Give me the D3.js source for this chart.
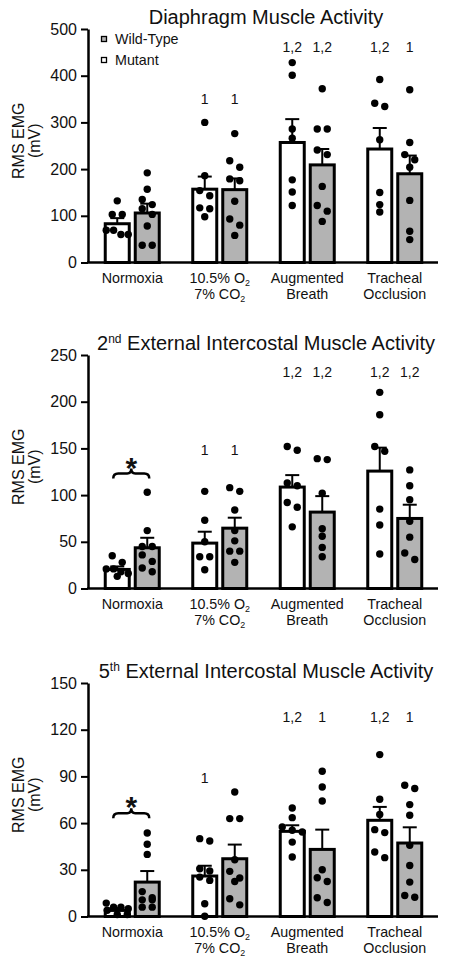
<!DOCTYPE html>
<html><head><meta charset="utf-8">
<script src="https://cdn.jsdelivr.net/npm/d3@7"></script>
<style>
body{margin:0;background:#fff}
svg{display:block}
text{font-family:"Liberation Sans",Arial,Helvetica,sans-serif;fill:#111}
</style>
</head><body>
<svg id="chart" width="450" height="966"></svg>
<script>
// ---------- data ----------
const categories = ["Normoxia", "Hypercapnia", "Augmented", "Tracheal"];
// tick labels: lines of [text, kind] segments (kind: "" normal, "sub" subscript)
const categoryLabels = [
  [[["Normoxia", ""]]],
  [[["10.5% O", ""], ["2", "sub"]], [["7% CO", ""], ["2", "sub"]]],
  [[["Augmented", ""]], [["Breath", ""]]],
  [[["Tracheal", ""]], [["Occlusion", ""]]]
];
const series = ["Mutant", "Wild-Type"];
const legendOrder = ["Wild-Type", "Mutant"];
const titles = [
  [["Diaphragm Muscle Activity", ""]],
  [["2", ""], ["nd", "sup"], [" External Intercostal Muscle Activity", ""]],
  [["5", ""], ["th", "sup"], [" External Intercostal Muscle Activity", ""]]
];
const yMax = [500, 250, 150];
const yTicks = [
  [0, 100, 200, 300, 400, 500],
  [0, 50, 100, 150, 200, 250],
  [0, 30, 60, 90, 120, 150]
];

// bar means and SEM
const mutantMean = [[83, 157, 257, 243], [20.4, 48.6, 108.6, 125.7], [3.9, 26, 54.7, 61.8]];
const mutantSem  = [[12, 27, 50, 45], [3.2, 12.2, 12.8, 25.1], [1.5, 6.6, 3.9, 8.6]];
const wtMean     = [[106, 156, 209, 190], [43.6, 64.6, 81.8, 75], [22.1, 37.1, 43.1, 47.2]];
const wtSem      = [[20, 24, 34, 39], [10.7, 11.2, 17.1, 14.7], [7.1, 9.1, 12.7, 10.1]];

// individual animals
const mutantPoints = [
  [[132, 103, 103, 69, 60, 60, 69], [300, 186, 154, 143, 117, 115, 98], [428, 401, 286, 266, 177, 151, 122], [392, 341, 334, 263, 150, 124, 108]],
  [[35, 28, 21, 21, 18, 16, 13], [104, 73, 50, 34, 34, 20], [152, 148, 113, 110, 92, 87, 66], [210, 186, 152, 147, 85, 68, 37]],
  [[8.6, 6, 6, 5, 4, 1.3, 1.3], [50, 48.5, 30.7, 29.2, 25.3, 23.2, 8.2, 0.2], [69.7, 63.5, 57.5, 55.4, 54.3, 47.8, 38.2], [104, 75.3, 65.5, 55.8, 53.9, 41.4, 37.8]]
];
const wtPoints = [
  [[192, 157, 135, 124, 115, 103, 78, 37, 37], [276, 218, 204, 179, 175, 131, 93, 80, 58], [372, 286, 286, 241, 231, 163, 122, 110, 88], [370, 257, 231, 220, 204, 133, 67, 49]],
  [[103, 62, 45, 45, 36, 29, 22, 18], [108, 104, 84, 62, 51, 40, 40, 28], [139, 138, 102, 64, 56, 44, 34], [127, 110, 95, 72, 55, 38, 31]],
  [[53.6, 46.4, 39.9, 16, 12, 10.7, 10.7, 6, 6], [80, 62.9, 62.9, 36.5, 29, 24.7, 22.5, 11.4, 7.5], [93.3, 83.2, 74.2, 30, 24.9, 22.5, 12, 9], [84.3, 82.2, 71.9, 65, 45.7, 32.8, 22.1, 13.5, 12.4]]
];

// significance labels per [category][series]
const annotations = [
  [["", ""], ["1", "1"], ["1,2", "1,2"], ["1,2", "1"]],
  [["", ""], ["1", "1"], ["1,2", "1,2"], ["1,2", "1,2"]],
  [["", ""], ["1", ""], ["1,2", "1"], ["1,2", "1"]]
];
// value level at which the labels sit, per category
const annotationLevel = [
  [0, 350, 461, 461],
  [0, 148, 232, 232],
  [0, 88.7, 128, 128]
];
// genotype difference (asterisk + brace) level, per panel (null = none)
const starLevel = [null, 123, 66.3];

// ---------- layout ----------
const W = 450;
const panelTop = [29, 355, 683];
const plotH = 233.5;
const xLeft = 88, xRight = 438;
const greyFill = "#b3b3b3";
const svg = d3.select("#chart");

function addSegments(sel, segs, baseSize) {
  segs.forEach(([t, k]) => {
    const ts = sel.append("tspan").text(t);
    if (k === "sub") ts.attr("font-size", baseSize * 0.62).attr("baseline-shift", "-30%");
    if (k === "sup") ts.attr("font-size", baseSize * 0.6).attr("baseline-shift", "55%");
  });
}

function swarm(values, y, cx) {
  const sorted = values.slice().sort((a, b) => b - a);
  const rows = [];
  sorted.forEach(v => {
    const py = y(v);
    const r = rows[rows.length - 1];
    if (r && Math.abs(py - r.y0) < 7) r.vals.push(v);
    else rows.push({ y0: py, vals: [v] });
  });
  const out = [];
  rows.forEach(r => {
    const n = r.vals.length;
    const sp = n === 1 ? 0 : n === 2 ? 10 : Math.min(10, 22 / (n - 1));
    r.vals.forEach((v, i) => out.push({ x: cx + (i - (n - 1) / 2) * sp, y: y(v) }));
  });
  return out;
}

for (let p = 0; p < 3; p++) {
  const top = panelTop[p];
  const g = svg.append("g");
  const y = d3.scaleLinear().domain([0, yMax[p]]).range([top + plotH, top]);
  const x = d3.scaleBand().domain(categories).range([xLeft + 0.5, xRight + 0.5]);
  const xs = d3.scaleBand().domain(series).range([-27, 27]).paddingInner(0.2);
  const cx = c => x(c) + x.bandwidth() / 2;

  // title
  const tt = g.append("text").attr("x", 266).attr("y", top - 12.5).attr("dy", "0.35em")
    .attr("text-anchor", "middle").attr("font-size", 20);
  addSegments(tt, titles[p], 20);

  // y label
  const cy = top + plotH / 2 - 5;
  g.append("text").attr("transform", `translate(24,${cy}) rotate(-90)`)
    .attr("text-anchor", "middle").attr("font-size", 16).text("RMS EMG");
  g.append("text").attr("transform", `translate(40,${cy}) rotate(-90)`)
    .attr("text-anchor", "middle").attr("font-size", 16).text("(mV)");

  // bars, error bars, points
  const meanArr = { "Mutant": mutantMean[p], "Wild-Type": wtMean[p] };
  const semArr = { "Mutant": mutantSem[p], "Wild-Type": wtSem[p] };
  const ptsArr = { "Mutant": mutantPoints[p], "Wild-Type": wtPoints[p] };
  categories.forEach((c, ci) => {
    series.forEach((s, si) => {
      const bx = cx(c) + xs(s);
      const bw = xs.bandwidth();
      const m = meanArr[s][ci], e = semArr[s][ci];
      const mid = bx + bw / 2;
      // error bar (up only)
      g.append("line").attr("x1", mid).attr("x2", mid).attr("y1", y(m)).attr("y2", y(m + e))
        .attr("stroke", "#000").attr("stroke-width", 2);
      g.append("line").attr("x1", mid - 7).attr("x2", mid + 7).attr("y1", y(m + e)).attr("y2", y(m + e))
        .attr("stroke", "#000").attr("stroke-width", 2);
      g.append("rect").attr("x", bx).attr("width", bw).attr("y", y(m)).attr("height", y(0) - y(m))
        .attr("fill", s === "Mutant" ? "#fff" : greyFill).attr("stroke", "#000").attr("stroke-width", 3);
      // points
      g.selectAll(null).data(swarm(ptsArr[s][ci], y, mid)).enter().append("circle")
        .attr("cx", d => d.x).attr("cy", d => d.y).attr("r", 3.7).attr("fill", "#000");
      // annotation
      const a = annotations[p][ci][si];
      if (a) {
        g.append("text").attr("x", mid).attr("y", y(annotationLevel[p][ci])).attr("dy", "0.35em")
          .attr("text-anchor", "middle").attr("font-size", 14).text(a);
      }
    });
  });

  // asterisk with brace over Normoxia
  if (starLevel[p] !== null) {
    const c = categories[0];
    const x0 = cx(c) + xs("Mutant") + xs.bandwidth() / 2 - 4;
    const x1 = cx(c) + xs("Wild-Type") + xs.bandwidth() / 2 + 2;
    const by = y(starLevel[p]);
    const xm = (x0 + x1) / 2;
    const h = 5;
    const path = `M${x0},${by + h} Q${x0},${by} ${x0 + 5},${by} L${xm - 4},${by} Q${xm},${by} ${xm},${by - h} Q${xm},${by} ${xm + 4},${by} L${x1 - 5},${by} Q${x1},${by} ${x1},${by + h}`;
    g.append("path").attr("d", path).attr("fill", "none").attr("stroke", "#000").attr("stroke-width", 2.5);
    g.append("text").attr("x", xm).attr("y", by + 4).attr("text-anchor", "middle")
      .attr("font-size", 30).attr("font-weight", "bold").text("*");
  }

  // y axis
  const ya = g.append("g").attr("transform", `translate(${xLeft},0)`)
    .call(d3.axisLeft(y).tickValues(yTicks[p]).tickSize(7).tickSizeOuter(0).tickPadding(4).tickFormat(d3.format("d")));
  ya.select(".domain").attr("stroke-width", 2.5);
  ya.selectAll(".tick line").attr("stroke-width", 2);
  ya.selectAll(".tick text").attr("font-size", 16).attr("fill", "#111")
    .attr("font-family", "'Liberation Sans',Arial,sans-serif");

  // x axis
  const xa = g.append("g").attr("transform", `translate(0,${top + plotH})`)
    .call(d3.axisBottom(x).tickSize(0).tickSizeOuter(0).tickFormat(""));
  xa.select(".domain").attr("stroke-width", 2.5).attr("d", `M${xLeft - 1},0H${xRight}`);
  xa.selectAll(".tick").each(function (c, i) {
    const tick = d3.select(this);
    tick.selectAll("text").remove();
    categoryLabels[i].forEach((line, li) => {
      const t = tick.append("text").attr("x", 0).attr("y", 15 + li * 16.5).attr("dy", "0.35em")
        .attr("text-anchor", "middle").attr("font-size", 14.3).attr("fill", "#111");
      addSegments(t, line, 14.3);
    });
  });

  // legend (first panel)
  if (p === 0) {
    legendOrder.forEach((s, i) => {
      const ly = 39 + i * 21;
      g.append("rect").attr("x", 101.5).attr("y", ly - 2.5).attr("width", 5).attr("height", 5)
        .attr("fill", s === "Mutant" ? "#fff" : greyFill).attr("stroke", "#000").attr("stroke-width", 1.3);
      g.append("text").attr("x", 115).attr("y", ly).attr("dy", "0.35em").attr("font-size", 14.3).text(s);
    });
  }
}
</script>
</body></html>
